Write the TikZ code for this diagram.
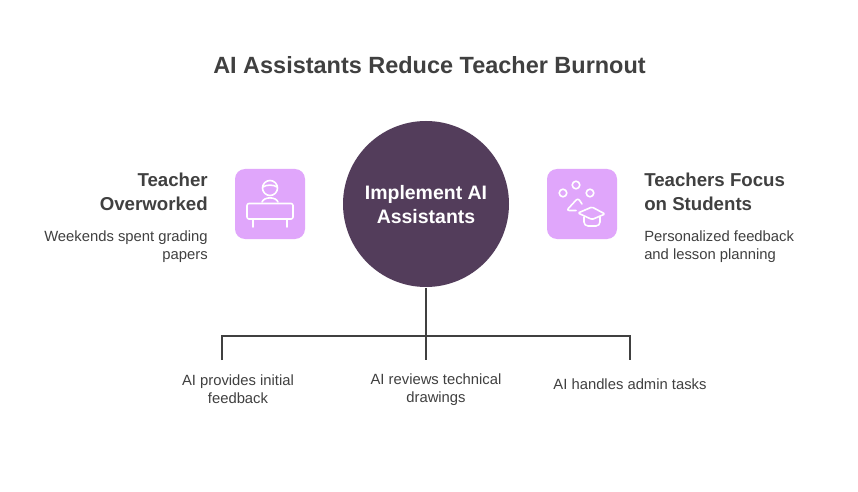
\documentclass[tikz,border=0pt]{standalone}
\usepackage{fontspec}
\setmainfont{Liberation Sans}
\definecolor{ink}{HTML}{404040}
\definecolor{hub}{HTML}{533D5B}
\definecolor{tile}{HTML}{E0A6FB}
\newcommand{\titlefs}{\fontsize{17.6}{22}\selectfont\bfseries}
\newcommand{\headfs}{\fontsize{14}{18}\selectfont\bfseries}
\newcommand{\hubfs}{\fontsize{14.6}{18}\selectfont\bfseries}
\newcommand{\bodyfs}{\fontsize{11.1}{13.5}\selectfont}
\tikzset{
  x=0.75pt,y=-0.75pt,
  heading/.style={text=ink,inner sep=0pt,font=\headfs},
  body/.style={text=ink,inner sep=0pt,font=\bodyfs},
  tilebox/.style={fill=tile,draw=none,rounded corners=7.5pt,minimum size=52.5pt,inner sep=0pt},
  icon/.style={draw=white,line width=1.2pt,line cap=round,line join=round},
  wire/.style={draw=ink,line width=1.5pt}
}
\begin{document}
\begin{tikzpicture}
\useasboundingbox (0,0) rectangle (858,492);
\fill[white] (0,0) rectangle (858,492);
\node[text=ink,inner sep=0pt,font=\titlefs] (title) at (429.5,65) {AI Assistants Reduce Teacher Burnout};
\node[circle,fill=hub,minimum size=124.5pt,inner sep=0pt,align=center,text=white,font=\hubfs] (hub) at (426,204) {\rule{0pt}{12pt}Implement AI\\Assistants};
\node[tilebox] (left) at (270,204) {};
\node[tilebox] (right) at (582,204) {};
% left icon
\draw[icon] (270,188) circle (7.5);
\draw[icon] (263,187) .. controls (266,184.5) and (274,184.5) .. (277,187);
\draw[icon] (262,202) .. controls (264,196.5) and (276,196.5) .. (278,202);
\draw[icon,rounded corners=1.5pt] (247,203.5) rectangle (293,219);
\draw[icon] (252.7,219) -- (252.7,227);
\draw[icon] (286.7,219) -- (286.7,227);
% right icon
\draw[icon] (563,193) circle (3.8);
\draw[icon] (576,185) circle (3.8);
\draw[icon] (590,193) circle (3.8);
\draw[icon,rounded corners=2pt] (576,210.5) -- (566.5,210.5) -- (578,198) -- (582,204);
\draw[icon,rounded corners=1pt] (578,213) -- (592,207) -- (605,214) -- (592,219.5) -- cycle;
\draw[icon,rounded corners=3pt] (584,217) -- (584,226) -- (600,226) -- (600,217);
% side text
\node[heading,anchor=east,align=right] (lh) at (208,192) {Teacher\\Overworked};
\node[body,anchor=east,align=right] (lb) at (208,246.5) {Weekends spent grading\\papers};
\node[heading,anchor=west,align=left] (rh) at (644,192) {Teachers Focus\\on Students};
\node[body,anchor=west,align=left] (rb) at (644,246.5) {Personalized feedback\\and lesson planning};
% wires
\coordinate (a) at (222,360);
\coordinate (b) at (426,360);
\coordinate (c) at (630,360);
\coordinate (bus) at (426,336);
\draw[wire] (hub.south) ++(0,1) -- (b);
\draw[wire] (a) -- (a |- bus) -- (c |- bus) -- (c);
% bottom labels
\node[body,align=center] (t1) at (238,389.5) {AI provides initial\\feedback};
\node[body,align=center] (t2) at (436,389.5) {AI reviews technical\\drawings};
\node[body,align=center] (t3) at (630,384) {AI handles admin tasks};
\end{tikzpicture}
\end{document}
